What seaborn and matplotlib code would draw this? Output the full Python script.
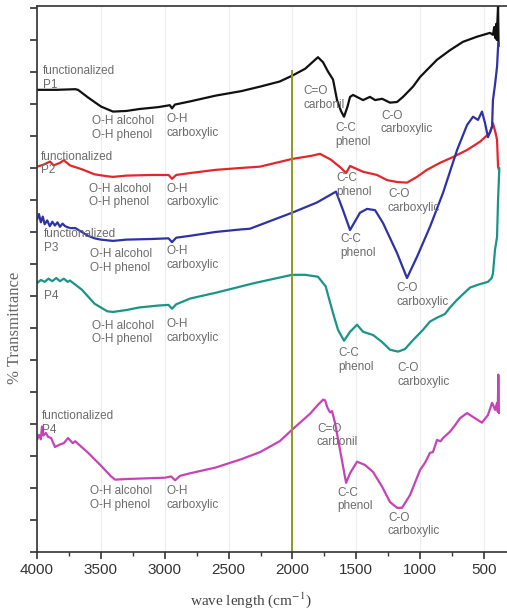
import numpy as np
import pandas as pd
import seaborn as sns
import matplotlib.pyplot as plt
from matplotlib.ticker import MultipleLocator, NullFormatter

# spectra: wave number (cm-1) and % transmittance (offset curves)
wn_p1 = [4000, 3850, 3700, 3679, 3600, 3500, 3405, 3300, 3200, 3050, 2960, 2943, 2920, 2800,
         2600, 2400, 2254, 2100, 2003, 1900, 1800, 1760, 1720, 1682, 1651, 1620, 1596, 1570,
         1549, 1525, 1447, 1393, 1353, 1298, 1236, 1181, 1134, 1056, 1001, 947, 868, 766, 665,
         555, 453, 430, 420, 412, 405, 400, 395, 390, 386]
t_p1 = [72.2, 72.2, 72.3, 72.2, 71.0, 69.6, 68.8, 68.9, 69.2, 69.5, 69.8, 69.3, 69.9, 70.4,
        71.3, 72.0, 72.7, 73.5, 74.4, 75.5, 77.3, 76.5, 75.0, 73.8, 70.6, 68.9, 68.0, 69.5,
        71.1, 71.4, 70.6, 71.1, 70.6, 70.8, 70.2, 70.3, 71.1, 72.7, 74.2, 75.3, 76.9, 78.4, 79.7,
        80.5, 81.1, 80.8, 82.0, 80.3, 82.5, 80.0, 83.0, 85.3, 79.0]

wn_p2 = [4000, 3950, 3898, 3870, 3820, 3790, 3742, 3650, 3550, 3450, 3405, 3300, 3100, 2970,
         2943, 2910, 2800, 2600, 2400, 2254, 2003, 1850, 1784, 1700, 1620, 1580, 1549, 1447,
         1338, 1259, 1181, 1103, 1025, 947, 844, 743, 633, 531, 453, 430, 410, 398, 390, 383]
t_p2 = [60.2, 60.5, 61.0, 60.4, 60.8, 61.2, 60.4, 59.8, 59.0, 58.7, 58.6, 58.8, 58.9, 58.9,
        58.3, 58.9, 59.2, 59.7, 60.0, 60.2, 61.4, 61.9, 62.2, 61.3, 60.0, 59.2, 60.3, 59.4,
        58.9, 58.1, 57.8, 57.7, 58.6, 59.7, 60.8, 61.7, 62.8, 64.1, 65.5, 67.0, 65.5, 64.4, 60.2, 59.7]

wn_p3 = [4000, 3985, 3970, 3955, 3940, 3920, 3900, 3880, 3860, 3840, 3820, 3800, 3780, 3742,
         3700, 3650, 3600, 3550, 3500, 3405, 3300, 3100, 2970, 2943, 2910, 2800, 2600, 2400,
         2333, 2003, 1808, 1659, 1604, 1549, 1471, 1416, 1353, 1291, 1181, 1103, 1025, 923, 821,
         711, 633, 586, 547, 516, 492, 469, 437, 430, 414, 398, 390, 386]
t_p3 = [51.9, 52.8, 51.5, 52.4, 51.2, 51.8, 50.9, 51.6, 51.0, 51.5, 50.8, 51.3, 50.9, 50.6,
        50.6, 50.0, 49.4, 49.0, 48.8, 48.6, 48.8, 48.9, 49.0, 48.4, 49.1, 49.4, 50.0, 50.4,
        50.5, 53.0, 54.6, 56.3, 53.4, 50.3, 53.0, 53.6, 53.4, 51.4, 46.7, 42.8, 46.1, 50.8, 56.1,
        62.8, 66.7, 68.0, 67.5, 68.8, 67.0, 64.8, 66.4, 70.6, 73.0, 75.8, 78.9, 79.5]

wn_p4 = [4000, 3970, 3940, 3910, 3880, 3850, 3820, 3790, 3760, 3742, 3650, 3550, 3450, 3405,
         3300, 3200, 3050, 2970, 2943, 2910, 2800, 2600, 2300, 2003, 1900, 1800, 1740, 1682,
         1643, 1596, 1549, 1494, 1447, 1369, 1298, 1236, 1173, 1119, 1056, 978, 923, 868, 805,
         766, 711, 610, 540, 469, 440, 430, 414, 398, 390, 380]
t_p4 = [42.0, 42.5, 42.2, 42.7, 42.3, 42.8, 42.3, 42.7, 42.2, 42.4, 41.0, 38.8, 37.6, 37.5,
        37.8, 38.2, 38.5, 38.6, 38.0, 38.7, 39.6, 40.5, 42.0, 43.3, 43.3, 43.0, 41.5, 37.3,
        34.7, 33.0, 34.4, 35.5, 34.4, 33.9, 32.8, 31.6, 31.3, 31.7, 33.1, 34.7, 36.0, 36.6, 37.2,
        38.2, 39.4, 41.3, 41.8, 42.2, 42.8, 43.5, 47.2, 49.2, 55.0, 60.0]

wn_p5 = [4000, 3985, 3970, 3961, 3950, 3930, 3914, 3890, 3859, 3820, 3790, 3757, 3720, 3700,
         3679, 3600, 3500, 3420, 3389, 3300, 3150, 3000, 2950, 2919, 2880, 2800, 2600, 2400,
         2254, 2100, 2003, 1862, 1800, 1760, 1745, 1725, 1705, 1690, 1667, 1627, 1580, 1549,
         1494, 1432, 1369, 1298, 1236, 1181, 1142, 1079, 1001, 960, 923, 900, 868, 840, 821,
         766, 727, 688, 633, 571, 516, 469, 437, 425, 414, 398, 392, 388, 383]
t_p5 = [17.5, 18.3, 17.6, 19.6, 18.2, 18.6, 18.0, 17.8, 16.4, 16.8, 17.0, 17.8, 17.0, 17.3,
        16.9, 15.5, 13.5, 11.8, 11.3, 11.4, 11.5, 11.6, 11.8, 11.2, 11.9, 12.3, 13.2, 14.5,
        15.6, 17.3, 19.1, 21.6, 23.0, 23.8, 23.7, 22.5, 21.8, 22.0, 20.2, 15.9, 10.8, 12.3,
        14.1, 13.6, 12.5, 10.2, 7.8, 6.9, 6.9, 8.9, 12.8, 14.0, 15.5, 15.6, 17.5, 17.3, 17.8,
        18.8, 19.8, 20.9, 21.7, 20.9, 20.2, 21.4, 23.3, 22.8, 22.2, 23.3, 21.9, 27.7, 21.7]

series = [(wn_p1, t_p1, '#111111'), (wn_p2, t_p2, '#e3262b'), (wn_p3, t_p3, '#2e32a6'),
          (wn_p4, t_p4, '#1b9487'), (wn_p5, t_p5, '#c544b5')]

# reference line at 2000 cm-1
ref_wn = 2000
ref_top = 75.3

# band annotations: (text, wave number, transmittance at top-left of text)
labels = [
    ('functionalized\nP1', 3953, 76.1), ('O-H alcohol\nO-H phenol', 3569, 68.3),
    ('O-H\ncarboxylic', 2990, 68.6), ('C=O\ncarbonil', 1917, 73.0),
    ('C-C\nphenol', 1667, 67.2), ('C-O\ncarboxylic', 1307, 69.1),
    ('functionalized\nP2', 3969, 62.7), ('O-H alcohol\nO-H phenol', 3593, 57.7),
    ('O-H\ncarboxylic', 2990, 57.7), ('C-C\nphenol', 1659, 59.4),
    ('C-O\ncarboxylic', 1252, 56.9),
    ('functionalized\nP3', 3945, 50.6), ('O-H alcohol\nO-H phenol', 3585, 47.5),
    ('O-H\ncarboxylic', 2990, 48.0), ('C-C\nphenol', 1627, 49.8),
    ('C-O\ncarboxylic', 1189, 42.2),
    ('P4', 3945, 40.9), ('O-H alcohol\nO-H phenol', 3569, 36.3),
    ('O-H\ncarboxylic', 2990, 36.6), ('C-C\nphenol', 1643, 32.0),
    ('C-O\ncarboxylic', 1181, 29.7),
    ('functionalized\nP4', 3961, 22.2), ('O-H alcohol\nO-H phenol', 3585, 10.5),
    ('O-H\ncarboxylic', 2990, 10.5), ('C=O\ncarbonil', 1808, 20.2),
    ('C-C\nphenol', 1651, 10.2), ('C-O\ncarboxylic', 1252, 6.3),
]

sns.set_theme(style="white")
plt.rcParams['font.family'] = ['Liberation Sans', 'DejaVu Sans']
plt.rcParams['mathtext.fontset'] = 'stix'

fig = plt.figure(figsize=(5.07, 6.11), dpi=100)
ax = fig.add_axes([0.073, 0.0966, 0.927, 0.8936])

ax.grid(True, axis='x', color='#ececec', linewidth=0.8)

for wn, t, col in series:
    sns.lineplot(x=wn, y=t, color=col, linewidth=1.6, sort=False, estimator=None, ax=ax)

ax.vlines(ref_wn, 0, ref_top, color='#8c9a22', linewidth=1.4)

for txt, x, y in labels:
    ax.text(x, y, txt, fontsize=8.5, color='#6b6b6b', ha='left', va='top', linespacing=1.2)

ax.set_xlim(4000, 320)
ax.set_ylim(0, 85.3)
ax.xaxis.set_major_locator(MultipleLocator(500))
ax.xaxis.set_minor_locator(MultipleLocator(250))
ax.yaxis.set_major_locator(MultipleLocator(5))
ax.yaxis.set_major_formatter(NullFormatter())
ax.tick_params(axis='x', which='major', direction='out', length=5, width=1.2,
               labelsize=11, colors='#333333', pad=3, bottom=True)
ax.tick_params(axis='x', which='minor', direction='out', length=3, width=1.0,
               colors='#333333', bottom=True)
ax.tick_params(axis='y', direction='out', length=5, width=1.2, colors='#333333', left=True)

for side in ['left', 'bottom', 'top']:
    ax.spines[side].set_color('#333333')
    ax.spines[side].set_linewidth(1.2)
ax.spines['right'].set_visible(False)

ax.set_xlabel(r'wave length (cm$^{-1}$)', fontsize=11, family='Liberation Serif', color='#444444')
ax.xaxis.set_label_coords(0.455, -0.07)
ax.set_ylabel('% Transmittance', fontsize=12, family='Liberation Serif', color='#666666')
ax.yaxis.set_label_coords(-0.03, 0.41)

fig.savefig('out.png', dpi=100)
plt.close()
